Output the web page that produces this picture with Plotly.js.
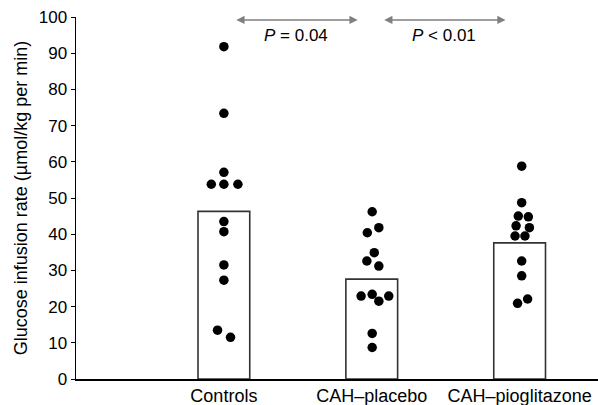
<!DOCTYPE html>
<html>
<head>
<meta charset="utf-8">
<script src="https://cdn.plot.ly/plotly-3.0.1.min.js"></script>
<style>html,body{margin:0;padding:0;background:#fff;}#chart{width:598px;height:405px;}</style>
</head>
<body>
<div id="chart"></div>
<script>
// Data
var categories = ["Controls", "CAH\u2013placebo", "CAH\u2013pioglitazone"];
var groupMeans = [46.3, 27.6, 37.6];

var controlsValues = [91.8, 73.4, 57.1, 53.8, 53.8, 53.8, 43.5, 40.7, 31.5, 27.3, 13.5, 11.5];
var controlsJitter = [0, 0, 0, -0.085, 0, 0.095, 0, 0, 0, 0, -0.043, 0.045];

var placeboValues = [46.2, 41.8, 40.4, 34.9, 32.6, 31.2, 23.4, 22.9, 22.9, 21.5, 12.6, 8.7];
var placeboJitter = [0.003, 0.048, -0.03, 0.017, -0.033, 0.048, 0.003, -0.072, 0.115, 0.048, 0.003, 0.003];

var pioglitazoneValues = [58.8, 48.7, 45.0, 44.8, 42.3, 41.8, 39.5, 39.5, 32.6, 28.5, 22.1, 20.9];
var pioglitazoneJitter = [0.014, 0.014, -0.009, 0.059, -0.024, 0.066, -0.031, 0.036, 0.014, 0.014, 0.054, -0.014];

var comparisons = [
  {from: 0, to: 1, label: "<i>P</i> = 0.04"},
  {from: 1, to: 2, label: "<i>P</i> < 0.01"}
];

var positions = categories.map(function (c, i) { return i + 1; });
var FONT = "Liberation Sans, Arial, sans-serif";

var barTrace = {
  type: "bar",
  x: positions,
  y: groupMeans,
  width: 0.35,
  marker: {color: "#ffffff", line: {color: "#333333", width: 1.6}},
  hoverinfo: "skip"
};

function dots(values, jitter, idx) {
  return {
    type: "scatter",
    mode: "markers",
    x: values.map(function (v, i) { return positions[idx] + jitter[i]; }),
    y: values,
    marker: {color: "#000000", size: 9.5},
    hoverinfo: "y"
  };
}

var traces = [
  barTrace,
  dots(controlsValues, controlsJitter, 0),
  dots(placeboValues, placeboJitter, 1),
  dots(pioglitazoneValues, pioglitazoneJitter, 2)
];

var annotations = [];
comparisons.forEach(function (c) {
  var a = positions[c.from] + 0.074, b = positions[c.to] - 0.095;
  annotations.push({
    x: b, y: 99.2, ax: a, ay: 99.2, xref: "x", yref: "y", axref: "x", ayref: "y",
    text: "", showarrow: true, arrowside: "end+start", arrowhead: 2,
    arrowsize: 1.1, arrowwidth: 1.5, arrowcolor: "#808080"
  });
  annotations.push({
    x: (a + b) / 2, y: 95.0, xref: "x", yref: "y", text: c.label, showarrow: false,
    font: {family: FONT, size: 17, color: "#000"}
  });
});

var layout = {
  width: 598, height: 405,
  margin: {l: 76, r: 0, t: 17, b: 26, pad: 0},
  paper_bgcolor: "#ffffff", plot_bgcolor: "#ffffff",
  showlegend: false,
  font: {family: FONT, size: 17, color: "#000"},
  xaxis: {
    range: [0, 3.53], tickvals: positions, ticktext: categories,
    tickfont: {family: FONT, size: 18, color: "#000"},
    showline: true, linecolor: "#000", linewidth: 1.5, showgrid: false, zeroline: false,
    ticks: "", automargin: false, fixedrange: true
  },
  yaxis: {
    range: [0, 100], dtick: 10, tick0: 0,
    tickfont: {family: FONT, size: 17, color: "#000"},
    showline: true, linecolor: "#000", linewidth: 1.5, showgrid: false, zeroline: false,
    ticks: "outside", ticklen: 4, tickcolor: "#000", tickwidth: 1,
    title: {text: "Glucose infusion rate (\u00b5mol/kg per min)", standoff: 6,
            font: {family: FONT, size: 18}},
    automargin: false, fixedrange: true
  },
  annotations: annotations
};

Plotly.newPlot("chart", traces, layout, {displayModeBar: false, staticPlot: true});
</script>
</body>
</html>
